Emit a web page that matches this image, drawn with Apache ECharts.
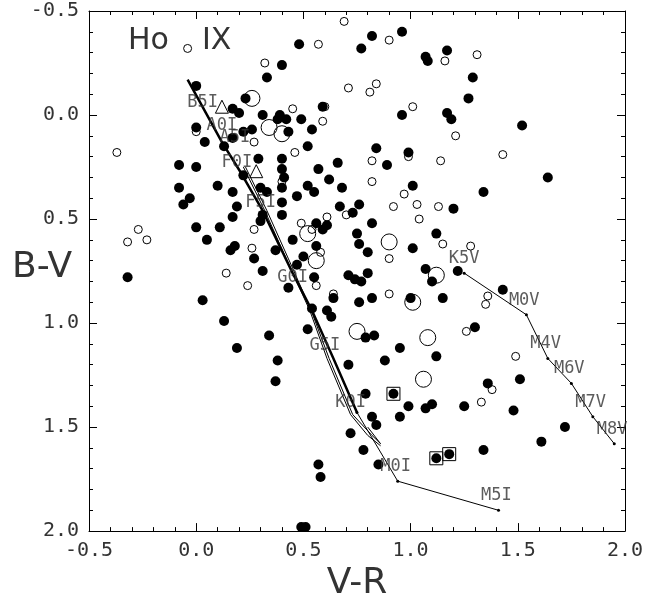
<!DOCTYPE html>
<html>
<head>
<meta charset="utf-8">
<script src="https://cdn.jsdelivr.net/npm/echarts@6/dist/echarts.min.js"></script>
<style>html,body{margin:0;background:#fff}#container{width:670px;height:607px}</style>
</head>
<body>
<div id="container"></div>
<script>
// [V-R, B-V] of the stars
var filledStars = [[0.82,-0.38],[0.48,-0.34],[0.77,-0.32],[0.40,-0.24],[0.33,-0.18],[0.00,-0.14],[0.23,-0.08],[0.17,-0.03],[0.20,-0.01],[0.31,0.00],[0.39,0.00],[0.38,0.02],[0.42,0.02],[0.49,0.02],[0.59,-0.04],[0.00,0.06],[0.22,0.08],[0.26,0.07],[0.17,0.11],[0.54,0.07],[0.43,0.08],[0.04,0.13],[0.13,0.15],[0.52,0.15],[0.84,0.16],[-0.08,0.24],[0.00,0.25],[0.29,0.21],[0.40,0.21],[0.40,0.26],[0.22,0.29],[0.41,0.30],[0.57,0.26],[0.66,0.23],[-0.08,0.35],[0.10,0.34],[0.17,0.37],[0.30,0.35],[0.33,0.37],[0.40,0.35],[0.47,0.39],[0.52,0.34],[0.55,0.37],[0.62,0.31],[0.68,0.35],[-0.03,0.40],[-0.06,0.43],[0.19,0.44],[0.17,0.49],[0.40,0.42],[0.40,0.48],[0.31,0.48],[0.30,0.51],[0.67,0.44],[0.73,0.47],[0.76,0.43],[0.82,0.52],[0.00,0.54],[0.11,0.54],[0.05,0.60],[0.16,0.65],[0.18,0.63],[0.27,0.69],[0.37,0.65],[0.45,0.60],[0.50,0.68],[0.47,0.72],[0.56,0.63],[0.56,0.52],[0.59,0.55],[0.61,0.53],[0.75,0.57],[0.76,0.62],[0.80,0.66],[0.31,0.75],[0.96,-0.40],[1.07,-0.28],[1.08,-0.26],[1.17,-0.31],[1.29,-0.18],[1.27,-0.08],[0.96,0.00],[1.17,-0.01],[1.19,0.02],[1.52,0.05],[0.99,0.18],[0.89,0.24],[1.64,0.30],[1.01,0.34],[1.34,0.37],[1.20,0.45],[1.12,0.57],[1.01,0.64],[1.07,0.74],[1.22,0.75],[0.80,0.76],[0.77,0.80],[1.10,0.80],[1.43,0.84],[0.82,0.88],[1.00,0.88],[1.15,0.88],[0.76,0.90],[1.30,1.02],[0.79,1.07],[0.83,1.06],[0.95,1.12],[1.12,1.16],[0.88,1.18],[1.51,1.27],[1.36,1.29],[0.79,1.34],[0.92,1.34],[0.99,1.40],[1.07,1.41],[1.10,1.39],[1.25,1.40],[1.48,1.42],[0.82,1.45],[0.95,1.45],[0.84,1.49],[1.72,1.50],[1.61,1.57],[0.78,1.61],[1.34,1.61],[1.12,1.65],[1.18,1.63],[0.85,1.68],[-0.32,0.78],[0.55,0.78],[0.43,0.83],[0.71,0.77],[0.74,0.79],[0.64,0.88],[0.03,0.89],[0.13,0.99],[0.19,1.12],[0.34,1.06],[0.38,1.18],[0.37,1.28],[0.52,1.03],[0.54,0.93],[0.61,0.94],[0.63,0.97],[0.71,1.20],[0.72,1.53],[0.57,1.68],[0.58,1.74],[0.49,1.98],[0.51,1.98]];
var openStars = [[0.69,-0.45],[0.57,-0.34],[-0.04,-0.32],[0.32,-0.25],[0.71,-0.13],[0.81,-0.11],[0.84,-0.15],[0.45,-0.03],[0.60,-0.04],[0.59,0.03],[0.00,0.08],[0.27,0.13],[0.46,0.18],[0.82,0.22],[0.82,0.32],[0.40,0.32],[-0.37,0.18],[-0.27,0.55],[-0.32,0.61],[-0.23,0.60],[0.27,0.55],[0.49,0.52],[0.54,0.55],[0.61,0.49],[0.70,0.48],[0.26,0.64],[0.58,0.66],[0.90,-0.36],[1.16,-0.26],[1.31,-0.29],[1.01,-0.04],[1.21,0.10],[0.99,0.20],[1.14,0.22],[1.43,0.19],[0.97,0.38],[0.92,0.44],[1.03,0.43],[1.13,0.44],[1.04,0.50],[1.15,0.62],[1.28,0.63],[0.90,0.69],[0.90,0.86],[1.36,0.87],[1.35,0.91],[1.26,1.04],[1.49,1.16],[1.38,1.32],[1.33,1.38],[0.14,0.76],[0.24,0.82],[0.56,0.82],[0.64,0.86]];
var bigOpenStars = [[0.26,-0.08],[0.34,0.06],[0.40,0.09],[0.52,0.57],[0.56,0.70],[0.90,0.61],[1.12,0.77],[1.01,0.90],[1.08,1.07],[1.06,1.27],[0.75,1.04]];
var boxedStars = [[0.92,1.34],[1.12,1.65],[1.18,1.63]];
var triangleStars = [[0.12,-0.04],[0.28,0.27]];

// model tracks
var superTrack = [[-0.04,-0.17],[0.12,0.13],[0.21,0.28],[0.31,0.46],[0.45,0.76],[0.54,0.94],[0.64,1.17],[0.75,1.43]];
var superTail = [[0.75,1.43],[0.94,1.76],[1.41,1.90]];
var superTrack2 = [[0.22,0.25],[0.32,0.46],[0.45,0.76],[0.53,0.94],[0.61,1.17],[0.72,1.44],[0.80,1.54],[0.86,1.59]];
var superTrack3 = [[0.23,0.25],[0.33,0.46],[0.46,0.76],[0.54,0.95],[0.62,1.17],[0.73,1.44],[0.82,1.54],[0.86,1.58],[0.80,1.50]];
var dwarfTrack = [[1.25,0.76],[1.54,0.96],[1.64,1.17],[1.75,1.29],[1.85,1.45],[1.95,1.58]];

var superNames = ['B5I','A0I','A5I','F0I','F5I','G0I','G5I','K0I','M0I','M5I'];
var superNamePos = [[0.03,-0.06],[0.12,0.05],[0.18,0.11],[0.19,0.23],[0.30,0.42],[0.45,0.78],[0.60,1.11],[0.72,1.38],[0.93,1.69],[1.40,1.83]];
var dwarfNames = ['K5V','M0V','M4V','M6V','M7V','M8V'];
var dwarfNamePos = [[1.25,0.69],[1.53,0.89],[1.63,1.10],[1.74,1.22],[1.84,1.38],[1.94,1.51]];

var mono = 'DejaVu Sans Mono';
var ink = '#333';

function axis(pos, showLabel) {
    return {
        type: 'value',
        position: pos,
        min: -0.5,
        max: 2.0,
        interval: 0.5,
        inverse: pos === 'left' || pos === 'right',
        axisLine: { show: true, onZero: false, lineStyle: { color: '#000', width: 1 } },
        axisTick: { show: true, inside: true, length: 8, lineStyle: { color: '#000' } },
        minorTick: { show: true, splitNumber: 5, length: 4, lineStyle: { color: '#000' } },
        splitLine: { show: false },
        axisLabel: {
            show: showLabel,
            fontFamily: mono,
            fontSize: 20,
            color: ink,
            margin: 10,
            formatter: function (v) { return v.toFixed(1); }
        }
    };
}

function labelData(names, pos) {
    return names.map(function (n, i) { return { name: n, value: pos[i] }; });
}

var xBottom = axis('bottom', true);
xBottom.name = 'V-R';
xBottom.nameLocation = 'middle';
xBottom.nameGap = 28;
xBottom.nameTextStyle = { fontFamily: 'DejaVu Sans', fontSize: 36, color: ink };
var xTop = axis('top', false);
var yLeft = axis('left', true);
var yRight = axis('right', false);

var dot = { color: '#000', opacity: 1 };
var ring = { color: 'rgba(0,0,0,0)', borderColor: '#000', borderWidth: 1, opacity: 1 };

var myChart = echarts.init(document.getElementById('container'));
option = {
    animation: false,
    grid: { left: 89, right: 45, top: 11, bottom: 60 },
    xAxis: [xBottom, xTop],
    yAxis: [yLeft, yRight],
    graphic: [
        { type: 'text', left: 128, top: 26, style: { text: 'Ho', font: '30px DejaVu Sans', fill: ink } },
        { type: 'text', left: 202, top: 26, style: { text: 'IX', font: '30px DejaVu Sans', fill: ink } },
        { type: 'text', left: 12, top: 250, style: { text: 'B-V', font: '36px DejaVu Sans', fill: ink } }
    ],
    series: [
        { type: 'line', data: superTrack2, symbol: 'none', lineStyle: { color: '#000', width: 1 }, z: 1 },
        { type: 'line', data: superTrack3, symbol: 'none', lineStyle: { color: '#000', width: 1 }, z: 1 },
        { type: 'line', data: superTrack, symbol: 'none', lineStyle: { color: '#000', width: 2.5 }, z: 1 },
        { type: 'line', data: superTail, symbol: 'circle', symbolSize: 3, itemStyle: dot, lineStyle: { color: '#000', width: 1 }, z: 1 },
        { type: 'line', data: dwarfTrack, symbol: 'circle', symbolSize: 3, itemStyle: dot, lineStyle: { color: '#000', width: 1 }, z: 1 },
        { type: 'scatter', data: filledStars, symbol: 'circle', symbolSize: 10, itemStyle: dot, z: 3 },
        { type: 'scatter', data: openStars, symbol: 'circle', symbolSize: 8, itemStyle: ring, z: 4 },
        { type: 'scatter', data: bigOpenStars, symbol: 'circle', symbolSize: 16, itemStyle: ring, z: 4 },
        { type: 'scatter', data: boxedStars, symbol: 'rect', symbolSize: 13, itemStyle: ring, z: 4 },
        { type: 'scatter', data: triangleStars, symbol: 'triangle', symbolSize: 13, itemStyle: ring, z: 4 },
        {
            type: 'scatter', data: labelData(superNames.concat(dwarfNames), superNamePos.concat(dwarfNamePos)),
            symbolSize: 0, z: 5,
            label: { show: true, position: 'inside', formatter: '{b}', fontFamily: mono, fontSize: 17, color: ink }
        }
    ]
};
myChart.setOption(option, true);
</script>
</body>
</html>
